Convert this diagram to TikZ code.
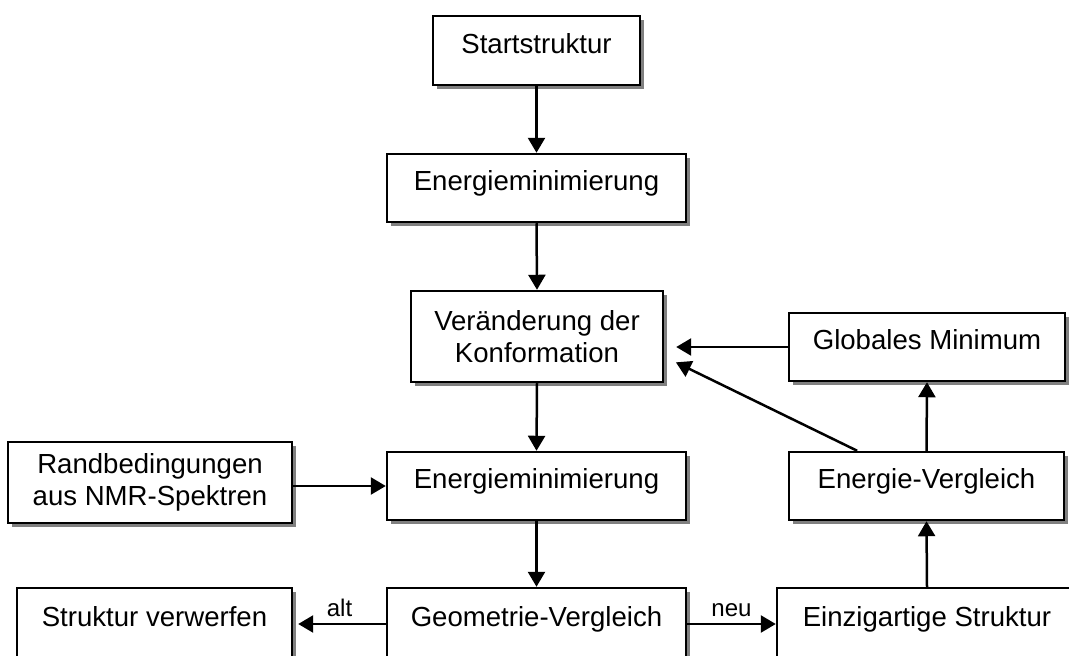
\documentclass[tikz,border=0pt]{standalone}
\usepackage{fontspec}
\setmainfont{Liberation Sans}
\usetikzlibrary{arrows.meta,shadows,calc}

\begin{document}
\begin{tikzpicture}[x=0.02cm, y=-0.02cm,
        block/.style={draw, line width=0.05cm, fill=white, inner sep=2pt, align=center,
            font=\fontsize{15.7}{18.2}\selectfont,
            drop shadow={shadow xshift=0.08cm, shadow yshift=-0.08cm, fill=black!50, opacity=1}},
        single/.style={text height=0.75em, text depth=0.45em},
        flow/.style={line width=0.05cm, -{Triangle[length=0.3cm, width=0.34cm]}},
        tag/.style={font=\fontsize{13.7}{16}\selectfont}]
    \useasboundingbox (0, 0) rectangle (1069, 656);

    % main column
    \node [block, single, minimum width=4.14cm, minimum height=1.38cm] (start) at (536.5, 50.5) {Startstruktur};
    \node [block, single, minimum width=5.98cm, minimum height=1.36cm] (emin1) at (536.5, 188) {Energieminimierung};
    \node [block, minimum width=5.04cm, minimum height=1.82cm] (konf) at (537, 336.5) {Veränderung der\\Konformation};
    \node [block, single, minimum width=5.98cm, minimum height=1.36cm] (emin2) at (536.5, 486) {Energieminimierung};
    \node [block, single, minimum width=5.98cm, minimum height=1.44cm] (geom) at (536.5, 624) {Geometrie-Vergleich};

    % side boxes
    \node [block, minimum width=5.68cm, minimum height=1.62cm] (rand) at (150, 482.5) {Randbedingungen\\aus NMR-Spektren};
    \node [block, single, minimum width=5.5cm, minimum height=1.44cm] (verw) at (154.5, 624) {Struktur verwerfen};
    \node [block, single, minimum width=6.0cm, minimum height=1.44cm] (einz) at (927, 624) {Einzigartige Struktur};
    \node [block, single, minimum width=5.5cm, minimum height=1.36cm] (evgl) at (926.5, 486) {Energie-Vergleich};
    \node [block, single, minimum width=5.52cm, minimum height=1.36cm] (glob) at (927, 347) {Globales Minimum};

    % connectors
    \draw [flow] (start.south) -- (emin1.north);
    \draw [flow] (emin1.south) -- (konf.north);
    \draw [flow] (konf.south) -- (emin2.north);
    \draw [flow] (emin2.south) -- (geom.north);
    \draw [flow] (rand.east |- emin2.west) -- (emin2.west);
    \draw [flow, shorten >=0.1cm] (geom.west) -- node [tag, above] {alt} (verw.east);
    \draw [flow] (geom.east) -- node [tag, above] {neu} (einz.west);
    \draw [flow] (einz.north) -- (evgl.south);
    \draw [flow] (evgl.north) -- (glob.south);
    \draw [flow, shorten >=0.24cm] (glob.west) -- (konf.east |- glob.west);
    \draw [flow, shorten >=0.26cm] ($(evgl.north west)!0.25!(evgl.north east)$) -- (konf.-9);
\end{tikzpicture}
\end{document}
